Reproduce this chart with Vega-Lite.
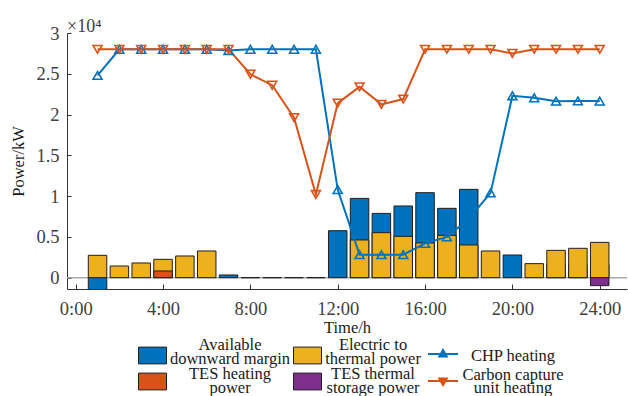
{
  "$schema": "https://vega.github.io/schema/vega-lite/v6.json",
  "width": 560,
  "height": 256,
  "autosize": {"type": "none"},
  "padding": {"left": 67, "top": 33, "right": 1, "bottom": 107},
  "background": "white",
  "title": {"text": "×10⁴", "anchor": "start", "frame": "group", "offset": -12, "fontSize": 18, "font": "Liberation Serif", "fontWeight": "normal", "color": "#404040"},
  "config": {
    "view": {"stroke": null},
    "font": "Liberation Serif",
    "axis": {"grid": false, "domainColor": "#333333", "tickColor": "#333333", "labelColor": "#404040", "titleColor": "#1a1a1a", "labelFont": "Liberation Serif", "titleFont": "Liberation Serif", "labelFontSize": 18.5, "titleFontSize": 16.5, "titleFontWeight": "normal", "domainWidth": 1, "tickWidth": 1}
  },
  "datasets": {
    "bars": [
      {"hour": 1, "series": "Available downward margin", "value": -0.25},
      {"hour": 7, "series": "Available downward margin", "value": 0.033},
      {"hour": 8, "series": "Available downward margin", "value": 0},
      {"hour": 9, "series": "Available downward margin", "value": 0},
      {"hour": 10, "series": "Available downward margin", "value": 0},
      {"hour": 11, "series": "Available downward margin", "value": 0},
      {"hour": 12, "series": "Available downward margin", "value": 0.576},
      {"hour": 13, "series": "Available downward margin", "value": 0.972},
      {"hour": 14, "series": "Available downward margin", "value": 0.788},
      {"hour": 15, "series": "Available downward margin", "value": 0.879},
      {"hour": 16, "series": "Available downward margin", "value": 1.042},
      {"hour": 17, "series": "Available downward margin", "value": 0.85},
      {"hour": 18, "series": "Available downward margin", "value": 1.083},
      {"hour": 20, "series": "Available downward margin", "value": 0.278},
      {"hour": 22, "series": "Available downward margin", "value": 0.16},
      {"hour": 23, "series": "Available downward margin", "value": 0.16},
      {"hour": 24, "series": "Available downward margin", "value": 0.16},
      {"hour": 1, "series": "Electric to thermal power", "value": 0.274},
      {"hour": 2, "series": "Electric to thermal power", "value": 0.143},
      {"hour": 3, "series": "Electric to thermal power", "value": 0.18},
      {"hour": 4, "series": "Electric to thermal power", "value": 0.225},
      {"hour": 5, "series": "Electric to thermal power", "value": 0.266},
      {"hour": 6, "series": "Electric to thermal power", "value": 0.327},
      {"hour": 13, "series": "Electric to thermal power", "value": 0.462},
      {"hour": 14, "series": "Electric to thermal power", "value": 0.552},
      {"hour": 15, "series": "Electric to thermal power", "value": 0.507},
      {"hour": 16, "series": "Electric to thermal power", "value": 0.425},
      {"hour": 17, "series": "Electric to thermal power", "value": 0.519},
      {"hour": 18, "series": "Electric to thermal power", "value": 0.401},
      {"hour": 19, "series": "Electric to thermal power", "value": 0.327},
      {"hour": 21, "series": "Electric to thermal power", "value": 0.172},
      {"hour": 22, "series": "Electric to thermal power", "value": 0.335},
      {"hour": 23, "series": "Electric to thermal power", "value": 0.36},
      {"hour": 24, "series": "Electric to thermal power", "value": 0.433},
      {"hour": 4, "series": "TES heating power", "value": 0.082},
      {"hour": 24, "series": "TES thermal storage power", "value": -0.098}
    ],
    "lines": [
      {"hour": 1, "series": "CHP heating", "value": 2.48},
      {"hour": 2, "series": "CHP heating", "value": 2.8},
      {"hour": 3, "series": "CHP heating", "value": 2.8},
      {"hour": 4, "series": "CHP heating", "value": 2.8},
      {"hour": 5, "series": "CHP heating", "value": 2.8},
      {"hour": 6, "series": "CHP heating", "value": 2.8},
      {"hour": 7, "series": "CHP heating", "value": 2.785},
      {"hour": 8, "series": "CHP heating", "value": 2.8},
      {"hour": 9, "series": "CHP heating", "value": 2.8},
      {"hour": 10, "series": "CHP heating", "value": 2.8},
      {"hour": 11, "series": "CHP heating", "value": 2.8},
      {"hour": 12, "series": "CHP heating", "value": 1.08},
      {"hour": 13, "series": "CHP heating", "value": 0.282},
      {"hour": 14, "series": "CHP heating", "value": 0.282},
      {"hour": 15, "series": "CHP heating", "value": 0.282},
      {"hour": 16, "series": "CHP heating", "value": 0.42},
      {"hour": 17, "series": "CHP heating", "value": 0.5},
      {"hour": 18, "series": "CHP heating", "value": 0.72},
      {"hour": 19, "series": "CHP heating", "value": 1.04},
      {"hour": 20, "series": "CHP heating", "value": 2.23},
      {"hour": 21, "series": "CHP heating", "value": 2.205},
      {"hour": 22, "series": "CHP heating", "value": 2.164},
      {"hour": 23, "series": "CHP heating", "value": 2.167},
      {"hour": 24, "series": "CHP heating", "value": 2.165},
      {"hour": 1, "series": "Carbon capture unit heating", "value": 2.8},
      {"hour": 2, "series": "Carbon capture unit heating", "value": 2.8},
      {"hour": 3, "series": "Carbon capture unit heating", "value": 2.8},
      {"hour": 4, "series": "Carbon capture unit heating", "value": 2.8},
      {"hour": 5, "series": "Carbon capture unit heating", "value": 2.8},
      {"hour": 6, "series": "Carbon capture unit heating", "value": 2.8},
      {"hour": 7, "series": "Carbon capture unit heating", "value": 2.8},
      {"hour": 8, "series": "Carbon capture unit heating", "value": 2.495},
      {"hour": 9, "series": "Carbon capture unit heating", "value": 2.36},
      {"hour": 10, "series": "Carbon capture unit heating", "value": 1.962},
      {"hour": 11, "series": "Carbon capture unit heating", "value": 1.02},
      {"hour": 12, "series": "Carbon capture unit heating", "value": 2.14},
      {"hour": 13, "series": "Carbon capture unit heating", "value": 2.34},
      {"hour": 14, "series": "Carbon capture unit heating", "value": 2.125},
      {"hour": 15, "series": "Carbon capture unit heating", "value": 2.19},
      {"hour": 16, "series": "Carbon capture unit heating", "value": 2.8},
      {"hour": 17, "series": "Carbon capture unit heating", "value": 2.8},
      {"hour": 18, "series": "Carbon capture unit heating", "value": 2.8},
      {"hour": 19, "series": "Carbon capture unit heating", "value": 2.8},
      {"hour": 20, "series": "Carbon capture unit heating", "value": 2.75},
      {"hour": 21, "series": "Carbon capture unit heating", "value": 2.8},
      {"hour": 22, "series": "Carbon capture unit heating", "value": 2.8},
      {"hour": 23, "series": "Carbon capture unit heating", "value": 2.8},
      {"hour": 24, "series": "Carbon capture unit heating", "value": 2.8}
    ]
  },
  "layer": [
    {
      "data": {"values": [{}]},
      "mark": {"type": "rule", "color": "#a8a8a8", "strokeWidth": 1.5},
      "encoding": {"y": {"datum": 0, "type": "quantitative"}}
    },
    {
      "data": {"name": "bars"},
      "mark": {"type": "bar", "size": 18.5, "stroke": "#1f1f1f", "strokeWidth": 1, "clip": true},
      "encoding": {
        "x": {"field": "hour", "type": "quantitative",
          "scale": {"domain": [-0.17, 25.02], "nice": false, "zero": false},
          "axis": {"values": [0, 4, 8, 12, 16, 20, 24], "labelExpr": "datum.value + ':00'", "title": "Time/h", "tickSize": -5, "labelPadding": 15, "titlePadding": 2}},
        "y": {"field": "value", "type": "quantitative", "stack": null,
          "scale": {"domain": [-0.139, 3], "nice": false, "zero": false},
          "axis": {"values": [0, 0.5, 1, 1.5, 2, 2.5, 3], "format": "~g", "title": "Power/kW", "tickSize": -4, "labelPadding": 12, "titlePadding": 9}},
        "fill": {"field": "series", "type": "nominal",
          "scale": {"domain": ["Available downward margin", "Electric to thermal power", "TES heating power", "TES thermal storage power"], "range": ["#0072BD", "#EDB120", "#D95319", "#7E2F8E"]},
          "legend": {"orient": "none", "legendX": 71, "legendY": 308, "columns": 2, "direction": "horizontal", "title": null, "padding": 0,
            "symbolType": "M-1,-0.6H1V0.6H-1Z", "symbolSize": 784, "symbolStrokeColor": "#1f1f1f", "symbolStrokeWidth": 1,
            "labelAlign": "center", "labelOffset": 55, "labelBaseline": "middle", "labelFontSize": 16.5, "labelFont": "Liberation Serif", "labelColor": "#1a1a1a",
            "labelExpr": "datum.label == 'Available downward margin' ? ['Available', 'downward margin'] : datum.label == 'Electric to thermal power' ? ['Electric to', 'thermal power'] : datum.label == 'TES heating power' ? ['TES heating', 'power'] : ['TES thermal', 'storage power']",
            "columnPadding": 0, "rowPadding": -20,
            "encode": {"labels": {"update": {"lineHeight": {"value": 14}, "dy": {"signal": "datum.index < 2 ? -11 : -8"}, "dx": {"signal": "datum.index % 2 == 0 ? 8 : -4"}}}}}}
      }
    },
    {
      "data": {"name": "lines"},
      "mark": {"type": "line", "strokeWidth": 2, "clip": true},
      "encoding": {
        "x": {"field": "hour", "type": "quantitative"},
        "y": {"field": "value", "type": "quantitative"},
        "stroke": {"field": "series", "type": "nominal",
          "scale": {"domain": ["CHP heating", "Carbon capture unit heating"], "range": ["#0072BD", "#D95319"]},
          "legend": {"orient": "none", "legendX": 360, "legendY": 305, "direction": "vertical", "title": null, "padding": 0,
            "symbolSize": 900, "symbolStrokeWidth": 2,
            "labelAlign": "center", "labelOffset": 54, "labelBaseline": "middle", "labelFontSize": 16.5, "labelFont": "Liberation Serif", "labelColor": "#1a1a1a",
            "labelExpr": "datum.label == 'Carbon capture unit heating' ? ['Carbon capture', 'unit heating'] : datum.label",
            "rowPadding": -4,
            "encode": {
              "symbols": {"update": {
                "shape": {"signal": "datum.value == 'CHP heating' ? 'M-1,0H1M-0.25,0.17L0,-0.26L0.25,0.17Z' : 'M-1,0H1M-0.25,-0.17L0,0.26L0.25,-0.17Z'"},
                "fill": {"signal": "datum.value == 'CHP heating' ? '#0072BD' : '#D95319'"}
              }},
              "labels": {"update": {"lineHeight": {"value": 13}, "dy": {"signal": "datum.label == 'Carbon capture unit heating' ? -6 : 2"}}}
            }}}
      }
    },
    {
      "data": {"name": "lines"},
      "transform": [{"filter": "datum.series == 'CHP heating'"}],
      "mark": {"type": "point", "shape": "triangle-up", "filled": false, "size": 80, "strokeWidth": 1.6, "color": "#0072BD", "opacity": 1},
      "encoding": {
        "x": {"field": "hour", "type": "quantitative"},
        "y": {"field": "value", "type": "quantitative"}
      }
    },
    {
      "data": {"name": "lines"},
      "transform": [{"filter": "datum.series == 'Carbon capture unit heating'"}],
      "mark": {"type": "point", "shape": "triangle-down", "filled": false, "size": 80, "strokeWidth": 1.6, "color": "#D95319", "opacity": 1},
      "encoding": {
        "x": {"field": "hour", "type": "quantitative"},
        "y": {"field": "value", "type": "quantitative"}
      }
    }
  ]
}
